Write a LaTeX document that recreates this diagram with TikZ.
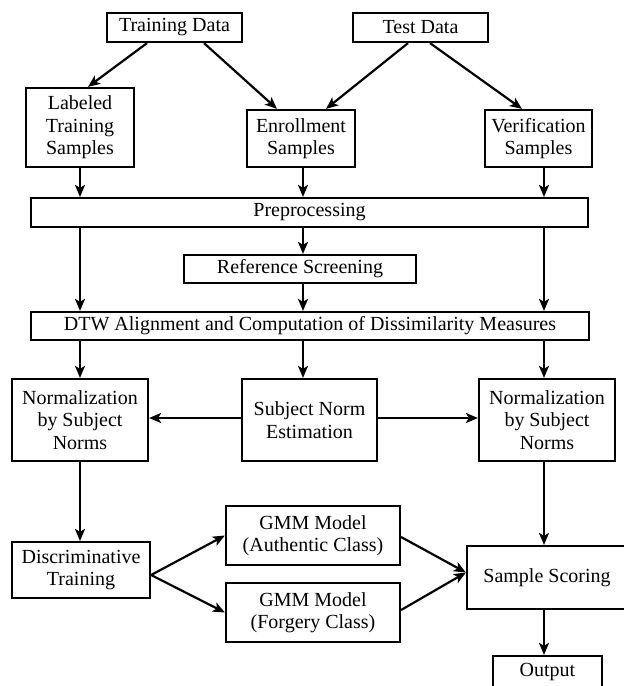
\documentclass[tikz,border=0pt]{standalone}
\usepackage{fontspec}
\setmainfont{Liberation Serif}
\usetikzlibrary{arrows.meta,calc}
\begin{document}
\begin{tikzpicture}[x=1pt,y=-1pt,
  box/.style={draw,line width=2.2pt,inner sep=0pt,align=center,
    font=\fontsize{20}{22.5}\selectfont},
  arr/.style={line width=2.2pt,-{Stealth[length=12pt,width=10pt,inset=3pt]}}]
\clip (0,0) rectangle (624,686);
\fill[white] (0,0) rectangle (624,686);
% nodes
\node[box,minimum width=135pt,minimum height=29pt] (td1) at (174.5,27.5) {Training Data};
\node[box,minimum width=135pt,minimum height=29pt] (td2) at (420.5,27.5) {Test Data};
\node[box,minimum width=108pt,minimum height=79pt] (lts) at (80,127.5) {Labeled\\Training\\Samples};
\node[box,minimum width=108pt,minimum height=57pt] (enr) at (301,138.5) {Enrollment\\Samples};
\node[box,minimum width=107pt,minimum height=57pt] (ver) at (538.5,138.5) {Verification\\Samples};
\node[box,minimum width=557pt,minimum height=29pt] (pre) at (309.5,212.5) {Preprocessing};
\node[box,minimum width=232pt,minimum height=28pt] (ref) at (300,269) {Reference Screening};
\node[box,minimum width=558pt,minimum height=28pt] (dtw) at (310,326) {DTW Alignment and Computation of Dissimilarity Measures};
\node[box,minimum width=136pt,minimum height=82pt] (nl) at (80,420) {Normalization\\by Subject\\Norms};
\node[box,minimum width=135pt,minimum height=82pt] (sne) at (309.5,420) {Subject Norm\\Estimation};
\node[box,minimum width=136pt,minimum height=82pt] (nr) at (547,420) {Normalization\\by Subject\\Norms};
\node[box,minimum width=138pt,minimum height=56pt] (dis) at (81,570) {Discriminative\\Training};
\node[box,minimum width=174pt,minimum height=59pt] (ga) at (313,535.5) {GMM Model\\(Authentic Class)};
\node[box,minimum width=174pt,minimum height=59pt] (gf) at (313,612.5) {GMM Model\\(Forgery Class)};
\node[box,minimum width=160pt,minimum height=63pt] (ss) at (547,577.5) {Sample Scoring};
\node[box,minimum width=109pt,minimum height=32pt] (out) at (547.5,672) {Output};
% connectors
\draw[arr] ([xshift=-27.5pt]td1.south) -- ([xshift=8pt]lts.north);
\draw[arr] ([xshift=29.5pt]td1.south) -- ([xshift=-24pt]enr.north);
\draw[arr] ([xshift=-12.5pt]td2.south) -- ([xshift=25pt]enr.north);
\draw[arr] ([xshift=9.5pt]td2.south) -- ([xshift=-16.5pt]ver.north);
\draw[arr] (lts.south) -- (lts.south |- pre.north);
\draw[arr] ([xshift=2pt]enr.south) -- ([xshift=2pt]enr.south |- pre.north);
\draw[arr] ([xshift=5.5pt]ver.south) -- ([xshift=5.5pt]ver.south |- pre.north);
\draw[arr] (pre.south -| lts.south) -- (dtw.north -| lts.south);
\draw[arr] ([xshift=2pt]enr.south |- pre.south) -- ([xshift=2pt]enr.south |- ref.north);
\draw[arr] ([xshift=2pt]enr.south |- ref.south) -- ([xshift=2pt]enr.south |- dtw.north);
\draw[arr] ([xshift=5.5pt]ver.south |- pre.south) -- ([xshift=5.5pt]ver.south |- dtw.north);
\draw[arr] (dtw.south -| nl.north) -- (nl.north);
\draw[arr] ([xshift=-6.5pt]sne.north |- dtw.south) -- ([xshift=-6.5pt]sne.north);
\draw[arr] ([xshift=-3pt]nr.north |- dtw.south) -- ([xshift=-3pt]nr.north);
\draw[arr] ([yshift=2pt]sne.west) -- ([yshift=2pt]nl.east);
\draw[arr] ([yshift=2pt]sne.east) -- ([yshift=2pt]nr.west);
\draw[arr] (nl.south) -- (nl.south |- dis.north);
\draw[arr] ([yshift=-5pt]dis.east) -- (ga.west);
\draw[arr] ([yshift=-5pt]dis.east) -- (gf.west);
\draw[arr] ([yshift=-1.5pt]ga.east) -- ([yshift=5pt]ss.west);
\draw[arr] ([yshift=2.5pt]gf.east) -- ([yshift=5pt]ss.west);
\draw[arr] ([xshift=-3pt]nr.south) -- ([xshift=-3pt]nr.south |- ss.north);
\draw[arr] ([xshift=-3pt]ss.south) -- ([xshift=-3pt]ss.south |- out.north);
\end{tikzpicture}
\end{document}
